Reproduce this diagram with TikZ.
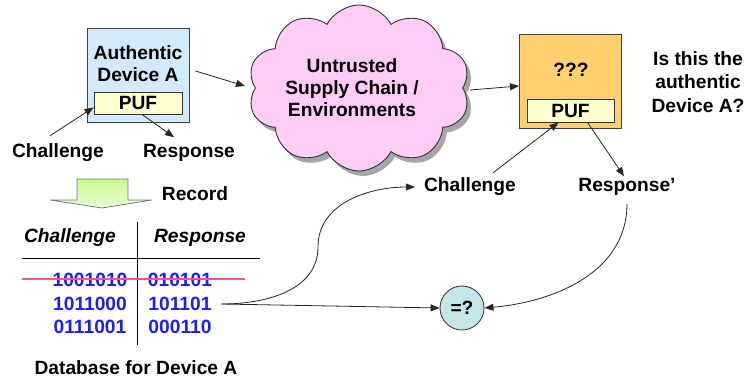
\documentclass[tikz,border=0pt]{standalone}
\usepackage{fontspec}
\setmainfont{Liberation Sans}
\usetikzlibrary{arrows.meta,shapes.symbols,shadows,calc}
\definecolor{blueF}{HTML}{D2EAFB}
\definecolor{pufF}{HTML}{FFFFD2}
\definecolor{orangeF}{HTML}{FFCF70}
\definecolor{pinkF}{HTML}{FFCCF5}
\definecolor{cyanF}{HTML}{C4E6EA}
\definecolor{greenF}{HTML}{C8FA96}
\definecolor{numB}{HTML}{1E1EF0}
\definecolor{strikeP}{HTML}{FF4F96}
\begin{document}
\begin{tikzpicture}[x=1pt,y=-1pt,
  lbl/.style={font=\fontsize{19.2}{22}\selectfont\bfseries, inner sep=0pt, align=center},
  hdr/.style={font=\fontsize{19.2}{22}\selectfont\bfseries\itshape, inner sep=0pt},
  num/.style={font=\fontsize{19.2}{22}\selectfont\bfseries, inner sep=0pt, text=numB},
  devbox/.style={draw=black!75, line width=0.9pt, minimum width=102pt, minimum height=94pt, inner sep=0pt},
  pufbox/.style={draw=black!80, line width=0.9pt, fill=pufF, minimum width=88pt, minimum height=22pt, inner sep=0pt, font=\fontsize{19.2}{22}\selectfont\bfseries},
  arr/.style={draw=black!85, line width=0.8pt, -{Triangle[length=9pt,width=7pt]}},
  tline/.style={draw=black, line width=0.9pt}]
\useasboundingbox (0,0) rectangle (749,383);

% Authentic device
\node[devbox, fill=blueF] (devA) at (138,75) {};
\node[lbl] (devAt) at (138,64) {Authentic\\Device A};
\node[pufbox] (puf1) at (138,103) {PUF};
\node[lbl] (ch1) at (58,153) {Challenge};
\node[lbl] (resp1) at (189,153) {Response};
\draw[arr] ([xshift=-8pt,yshift=8pt]ch1.north) -- ([yshift=7pt]puf1.south west);
\draw[arr] ([xshift=4pt]puf1.south) -- ([xshift=-15pt,yshift=7pt]resp1.north);

% Cloud
\node[cloud, cloud puffs=10, cloud puff arc=125, cloud ignores aspect, minimum width=222pt, minimum height=166pt, draw=black!80, line width=0.9pt, fill=pinkF, drop shadow={shadow xshift=4pt, shadow yshift=-5pt, opacity=0.7}] (cloud) at (359,88) {};
\node[lbl] (cloudt) at (352,88) {Untrusted\\Supply Chain /\\Environments};
\draw[arr] ([xshift=6pt,yshift=4pt]devA.east) -- ([xshift=-10pt,yshift=2pt]cloud.west);

% Unknown device
\node[devbox, fill=orangeF] (devX) at (570.5,81) {};
\node[lbl] (devXt) at (571,70) {???};
\node[pufbox, minimum width=87pt, minimum height=23pt] (puf2) at (570.5,110.5) {PUF};
\draw[arr] ([xshift=7pt,yshift=-2pt]cloud.east) -- (devX.west |- 0,86);
\node[lbl, font=\fontsize{19.2}{23.5}\selectfont\bfseries] (ques) at (698,82) {Is this the\\authentic\\Device A?};

\node[lbl] (ch2) at (470,187) {Challenge};
\node[lbl] (resp2) at (627,187) {Response'};
\draw[arr] ([xshift=23pt,yshift=5pt]ch2.north) -- ([xshift=-12pt]puf2.south);
\draw[arr] ([xshift=17pt]puf2.south) -- ([xshift=-3pt,yshift=2pt]resp2.north);

% Record arrow
\path[draw=black!55, line width=0.7pt, top color=greenF, bottom color=greenF!45!white]
  (77,179) -- (128,179) -- (128,200) -- (152,200) -- (102,208) -- (50,200) -- (77,200) -- cycle;
\node[lbl] (rec) at (195,194) {Record};

% Table
\node[hdr] (hc) at (70,238) {Challenge};
\node[hdr] (hr) at (200,238) {Response};
\draw[tline] (22,258) -- (260,258);
\draw[tline] (137,222) -- (137,345);
\node[num] (c1) at (90,280) {1001010};
\node[num] (r1) at (180,280) {010101};
\node[num] (c2) at (90,304) {1011000};
\node[num] (r2) at (180,304) {101101};
\node[num] (c3) at (90,327) {0111001};
\node[num] (r3) at (180,327) {000110};
\draw[strikeP, line width=1.6pt] (22,279) -- (245,279);
\node[lbl] (db) at (136,368) {Database for Device A};

% Comparison
\node[circle, draw=black!75, line width=0.9pt, fill=cyanF, minimum size=44pt, inner sep=0pt, font=\fontsize{19.2}{22}\selectfont\bfseries] (eq) at (462,308) {=?};
\coordinate (src) at ([xshift=10pt]r2.east);
\draw[arr] (src) to[out=0,in=-90] (318,247) to[out=90,in=180] ([xshift=-9pt]ch2.west);
\draw[arr] (src) -- (eq.west);
\draw[arr] ([yshift=-8pt]resp2.south) to[out=-90,in=5] (eq.east);
\end{tikzpicture}
\end{document}
